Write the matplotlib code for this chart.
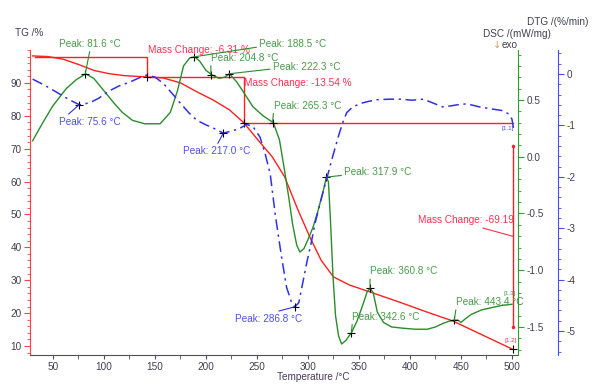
import matplotlib
matplotlib.use("Agg")
import matplotlib.pyplot as plt
from matplotlib.ticker import MultipleLocator, FormatStrFormatter

plt.rcParams['font.family'] = ['Liberation Sans', 'DejaVu Sans']
plt.rcParams['axes.unicode_minus'] = False

# TG curve (%)
temp_tg = [30, 45, 60, 75, 90, 105, 120, 142, 158, 175, 191, 207, 223, 237, 250, 265, 277,
           290, 302, 313, 325, 341, 361, 390, 415, 442, 472, 500]
tg = [98.2, 98.0, 97.2, 95.6, 93.8, 92.8, 92.2, 91.8, 91.5, 90.0, 87.3, 84.8, 81.8, 77.9, 73.0,
      67.5, 61.5, 51.5, 43.0, 36.0, 31.0, 28.5, 26.4, 23.3, 20.5, 17.6, 13.2, 9.1]

# DSC curve (mW/mg)
temp_dsc = [30, 40, 50, 63, 73, 82, 90, 100, 110, 118, 128, 140, 155, 165, 172, 178, 184, 189,
            194, 200, 206, 213, 218, 223, 230, 236, 246, 256, 266, 272, 277, 281, 285, 289, 292,
            296, 300, 305, 310, 315, 318, 320, 322, 324.5, 327, 330, 333, 337, 342.6, 348, 354,
            358, 361, 364, 368, 374, 382, 392, 405, 417, 425, 432, 438, 443, 447, 450, 454, 460,
            470, 480, 490, 500]
dsc = [0.14, 0.30, 0.45, 0.60, 0.68, 0.73, 0.69, 0.58, 0.47, 0.39, 0.32, 0.29, 0.29, 0.39, 0.58,
       0.80, 0.87, 0.88, 0.84, 0.76, 0.72, 0.69, 0.70, 0.73, 0.66, 0.58, 0.44, 0.36, 0.30, 0.15,
       -0.12, -0.35, -0.60, -0.78, -0.84, -0.81, -0.73, -0.62, -0.47, -0.30, -0.18, -0.22, -0.55,
       -1.05, -1.40, -1.58, -1.65, -1.62, -1.55, -1.45, -1.30, -1.19, -1.16, -1.20, -1.37, -1.46,
       -1.50, -1.51, -1.52, -1.52, -1.50, -1.47, -1.45, -1.44, -1.44, -1.46, -1.43, -1.39, -1.35,
       -1.33, -1.31, -1.30]

# DTG curve (%/min)
temp_dtg = [30, 42, 54, 66, 76, 86, 95, 105, 115, 125, 135, 142, 150, 158, 166, 175, 183, 191,
            200, 207, 217, 225, 232, 240, 246, 253, 258, 263, 268, 274, 279, 284, 287, 291, 295,
            299, 303, 307, 312, 318.6, 324, 330, 334, 338, 344, 352, 360, 368, 380, 392, 402, 413,
            422, 432, 440, 446, 456, 468, 480, 490, 497, 500, 502]
dtg = [-0.10, -0.22, -0.36, -0.50, -0.60, -0.56, -0.47, -0.33, -0.23, -0.16, -0.07, -0.02, -0.06,
       -0.18, -0.36, -0.57, -0.75, -0.90, -0.99, -1.05, -1.15, -1.11, -1.07, -0.98, -1.02, -1.23,
       -1.55, -1.95, -2.75, -3.55, -4.15, -4.45, -4.53, -4.45, -4.05, -3.65, -3.30, -2.90, -2.50,
       -2.02, -1.62, -1.20, -0.95, -0.75, -0.64, -0.57, -0.53, -0.50, -0.49, -0.49, -0.51, -0.49,
       -0.56, -0.64, -0.62, -0.60, -0.58, -0.64, -0.68, -0.71, -0.78, -0.88, -1.12]

# peaks
dsc_peak_t = [81.6, 188.5, 204.8, 222.3, 265.3, 317.9, 342.6, 360.8, 443.4]
dsc_peak_v = [0.73, 0.88, 0.72, 0.73, 0.30, -0.18, -1.55, -1.16, -1.44]
dtg_peak_t = [75.6, 217.0, 286.8]
dtg_peak_v = [-0.60, -1.15, -4.53]

# mass change steps
mc_t = [32, 142, 237, 501]
mc_level = [98.0, 91.8, 77.9, 9.0]
mc_bar = [70.9, 15.8]
mc_text = ["Mass Change: -6.31 %", "Mass Change: -13.54 %", "Mass Change: -69.19"]

c_tg, c_dsc, c_dtg = '#ff2020', '#2a8c2a', '#3030e8'
t_red, t_green, t_blue = '#ff3050', '#4a9a4a', '#5050e8'
c_lab = '#404050'
fs = 7.2

fig = plt.figure(figsize=(6, 3.89), dpi=100)
W, H = 600.0, 389.0
ax = fig.add_axes([30 / W, 1 - 355 / H, 488 / W, 305 / H])
ax2 = ax.twinx()
ax3 = ax.twinx()

ax.set_xlim(27.45, 505.9)
ax.set_ylim(7.26, 100.0)
ax2.set_ylim(-1.747, 0.94)
ax3.set_ylim(-5.467, 0.467)

# spines
for a in (ax, ax2, ax3):
    a.patch.set_visible(False)
    for s in a.spines.values():
        s.set_visible(False)
ax.spines['left'].set_visible(True)
ax.spines['left'].set_color('#ff4040')
ax.spines['bottom'].set_visible(True)
ax.spines['bottom'].set_color('#505050')
ax2.spines['right'].set_visible(True)
ax2.spines['right'].set_color('#30a030')
ax3.spines['right'].set_visible(True)
ax3.spines['right'].set_color('#4a4aff')
ax3.spines['right'].set_position(('axes', 1.082))

ax.xaxis.set_major_locator(MultipleLocator(50))
ax.xaxis.set_minor_locator(MultipleLocator(25))
ax.set_yticks(range(10, 100, 10))
ax.yaxis.set_minor_locator(MultipleLocator(2))
ax.tick_params(axis='x', which='both', length=3, color='#505050', labelsize=fs,
               labelcolor=c_lab, pad=2)
ax.tick_params(axis='y', which='major', length=4, color='#ff4040', labelsize=fs,
               labelcolor=c_lab, pad=2)
ax.tick_params(axis='y', which='minor', length=2, color='#ff4040')

ax2.set_yticks([-1.5, -1.0, -0.5, 0.0, 0.5])
ax2.yaxis.set_minor_locator(MultipleLocator(0.1))
ax2.yaxis.set_major_formatter(FormatStrFormatter('%.1f'))
ax2.tick_params(axis='y', which='major', length=4, color='#30a030', labelsize=fs,
                labelcolor=c_lab, pad=2)
ax2.tick_params(axis='y', which='minor', length=2, color='#30a030')

ax3.set_yticks([-5, -4, -3, -2, -1, 0])
ax3.yaxis.set_minor_locator(MultipleLocator(0.2))
ax3.tick_params(axis='y', which='major', length=4, color='#4a4aff', labelsize=fs,
                labelcolor=c_lab, pad=2)
ax3.tick_params(axis='y', which='minor', length=2, color='#4a4aff')

# curves
ax.plot(temp_tg, tg, color=c_tg, lw=1.0)
ax2.plot(temp_dsc, dsc, color=c_dsc, lw=1.0)
ax3.plot(temp_dtg, dtg, color=c_dtg, lw=1.1, linestyle=(0, (7, 3, 1.5, 3)))

# mass change bracket
ax.plot([mc_t[0], mc_t[1], mc_t[1], mc_t[2], mc_t[2], mc_t[3]],
        [mc_level[0], mc_level[0], mc_level[1], mc_level[1], mc_level[2], mc_level[2]],
        color=c_tg, lw=1.0)
ax.plot([mc_t[3], mc_t[3]], mc_bar, color=c_tg, lw=1.0, marker='.', ms=3)
ax.plot(mc_t[1:], mc_level[1:], '+', color='k', ms=6, mew=0.8)

ax.annotate(mc_text[0], (mc_t[1], mc_level[0]), xytext=(1, 7), textcoords='offset pixels',
            ha='left', va='center', color=t_red, fontsize=fs)
ax.annotate(mc_text[1], (mc_t[2], mc_level[1]), xytext=(0, -6), textcoords='offset pixels',
            ha='left', va='center', color=t_red, fontsize=fs)
ax.annotate(mc_text[2], (mc_t[3], sum(mc_bar) / 2), xytext=(1, 16), textcoords='offset pixels',
            ha='right', va='center', color=t_red, fontsize=fs,
            arrowprops=dict(arrowstyle='-', color=t_red, lw=0.8, relpos=(0.57, 0),
                            shrinkA=0, shrinkB=0))

# DSC peaks
dsc_off = [(5, 30, 'center', (0.5, 0)), (65, 13, 'left', (0, 0.2)), (0, 17, 'left', (0, 0)),
           (44, 7, 'left', (0, 0.3)), (1, 17, 'left', (0, 0)), (18, 5, 'left', (0, 0.2)),
           (1, 16, 'left', (0, 0)), (0, 17, 'left', (0, 0)), (2, 18, 'left', (0, 0))]
ax2.plot(dsc_peak_t, dsc_peak_v, '+', color='k', ms=6, mew=0.8)
for t, v, (dx, dy, ha, rp) in zip(dsc_peak_t, dsc_peak_v, dsc_off):
    ax2.annotate("Peak: %.1f °C" % t, (t, v), xytext=(dx, dy), textcoords='offset pixels',
                 ha=ha, va='center', color=t_green, fontsize=fs,
                 arrowprops=dict(arrowstyle='-', color=c_dsc, lw=0.8, relpos=rp,
                                 shrinkA=0, shrinkB=0))

# DTG peaks
dtg_off = [(11, -17, (0.1, 1)), (-7, -18, (0.5, 1)), (-26, -12, (0.5, 1))]
ax3.plot(dtg_peak_t, dtg_peak_v, '+', color='k', ms=6, mew=0.8)
for t, v, (dx, dy, rp) in zip(dtg_peak_t, dtg_peak_v, dtg_off):
    ax3.annotate("Peak: %.1f °C" % t, (t, v), xytext=(dx, dy), textcoords='offset pixels',
                 ha='center', va='center', color=t_blue, fontsize=fs,
                 arrowprops=dict(arrowstyle='-', color=c_dtg, lw=0.8, relpos=rp,
                                 shrinkA=0, shrinkB=0))

# small index labels
ax3.annotate("[1.1]", (temp_dtg[-1], dtg[-1]), xytext=(-6, 3), textcoords='offset pixels',
             ha='center', va='center', color=t_blue, fontsize=4.5)
ax2.annotate("[1.3]", (temp_dsc[-1], dsc[-1]), xytext=(-2, 11), textcoords='offset pixels',
             ha='center', va='center', color=t_green, fontsize=4.5)
ax.annotate("[1.2]", (mc_t[3], mc_level[3]), xytext=(-2, 9), textcoords='offset pixels',
            ha='center', va='center', color=t_red, fontsize=4.5)

# axis titles
fig.text(15 / W, 1 - 33 / H, "TG /%", ha='left', va='center', color=c_lab, fontsize=fs)
fig.text(483 / W, 1 - 34 / H, "DSC /(mW/mg)", ha='left', va='center', color=c_lab, fontsize=fs)
fig.text(493 / W, 1 - 45 / H, "↓", ha='left', va='center', color='#d0a060', fontsize=fs,
         family=['DejaVu Sans'])
fig.text(502 / W, 1 - 45 / H, "exo", ha='left', va='center', color=c_lab, fontsize=fs)
fig.text(527 / W, 1 - 22 / H, "DTG /(%/min)", ha='left', va='center', color=c_lab, fontsize=fs)
fig.text(313 / W, 1 - 377 / H, "Temperature /°C", ha='center', va='center', color='#4a3a60',
         fontsize=fs)

fig.savefig("out.png", dpi=100)
